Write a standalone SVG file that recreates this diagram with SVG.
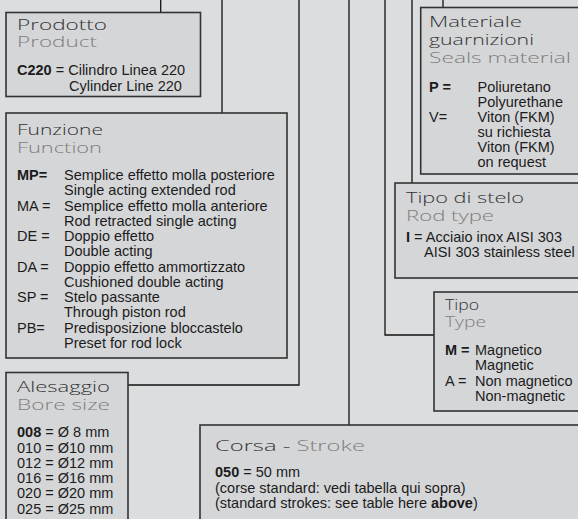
<svg xmlns="http://www.w3.org/2000/svg" width="578" height="519" viewBox="0 0 578 519">
<style>
.bg{fill:#dcdddf}
.box{fill:#d5d6d8;stroke:#333;stroke-width:1.6}
.ln{fill:none;stroke:#111;stroke-width:1.3}
.t{font-family:"Open Sans","DejaVu Sans",sans-serif;font-weight:300;font-size:14px;fill:#333}
.s{font-family:"Open Sans","DejaVu Sans",sans-serif;font-weight:300;font-size:14px;fill:#7e7e7e}
.b{font-family:"Liberation Sans",Arial,sans-serif;font-size:14.5px;fill:#1c1c1c}
.k{font-weight:bold}
</style>
<rect class="bg" x="0" y="0" width="578" height="519"/>
<g id="connectors">
<path class="ln" d="M160.7 0V12.5"/>
<path class="ln" d="M222 0V113"/>
<path class="ln" d="M299 0V385H128"/>
<path class="ln" d="M349 0V425"/>
<path class="ln" d="M385 0V335H434"/>
<path class="ln" d="M412 0V183"/>
<path class="ln" d="M443 0V7.5"/>
</g>
<g id="prodotto">
<rect class="box" x="6" y="12.5" width="194.5" height="84"/>
<text class="t" x="17" y="29.5" textLength="90" lengthAdjust="spacingAndGlyphs">Prodotto</text>
<text class="s" x="17" y="47" textLength="80" lengthAdjust="spacingAndGlyphs">Product</text>
<text class="b" x="17" y="75"><tspan class="k">C220</tspan> = Cilindro Linea 220</text>
<text class="b" x="69" y="90.5">Cylinder Line 220</text>
</g>
<g id="funzione">
<rect class="box" x="6" y="113" width="281" height="245"/>
<text class="t" x="17" y="135" textLength="86" lengthAdjust="spacingAndGlyphs">Funzione</text>
<text class="s" x="17" y="153" textLength="85" lengthAdjust="spacingAndGlyphs">Function</text>
<text class="b k" x="17" y="180">MP=</text>
<text class="b" x="64" y="180">Semplice effetto molla posteriore</text>
<text class="b" x="64" y="195.2">Single acting extended rod</text>
<text class="b" x="17" y="210.5">MA =</text>
<text class="b" x="64" y="210.5">Semplice effetto molla anteriore</text>
<text class="b" x="64" y="225.7">Rod retracted single acting</text>
<text class="b" x="17" y="241">DE =</text>
<text class="b" x="64" y="241">Doppio effetto</text>
<text class="b" x="64" y="256.2">Double acting</text>
<text class="b" x="17" y="271.5">DA =</text>
<text class="b" x="64" y="271.5">Doppio effetto ammortizzato</text>
<text class="b" x="64" y="286.7">Cushioned double acting</text>
<text class="b" x="17" y="302">SP =</text>
<text class="b" x="64" y="302">Stelo passante</text>
<text class="b" x="64" y="317.2">Through piston rod</text>
<text class="b" x="17" y="332.5">PB=</text>
<text class="b" x="64" y="332.5">Predisposizione bloccastelo</text>
<text class="b" x="64" y="347.7">Preset for rod lock</text>
</g>
<g id="alesaggio">
<rect class="box" x="6" y="372.5" width="122" height="160"/>
<text class="t" x="17" y="391.5" textLength="93" lengthAdjust="spacingAndGlyphs">Alesaggio</text>
<text class="s" x="17" y="410" textLength="93" lengthAdjust="spacingAndGlyphs">Bore size</text>
<text class="b" x="17" y="437"><tspan class="k">008</tspan> = Ø 8 mm</text>
<text class="b" x="17" y="452.5">010 = Ø10 mm</text>
<text class="b" x="17" y="467.7">012 = Ø12 mm</text>
<text class="b" x="17" y="483">016 = Ø16 mm</text>
<text class="b" x="17" y="498.2">020 = Ø20 mm</text>
<text class="b" x="17" y="513.5">025 = Ø25 mm</text>
</g>
<g id="corsa">
<rect class="box" x="200" y="425" width="400" height="110"/>
<text class="t" x="215" y="451" textLength="150" lengthAdjust="spacingAndGlyphs">Corsa - <tspan fill="#7e7e7e">Stroke</tspan></text>
<text class="b" x="215" y="477.3"><tspan class="k">050</tspan> = 50 mm</text>
<text class="b" x="215" y="492.7">(corse standard: vedi tabella qui sopra)</text>
<text class="b" x="215" y="508">(standard strokes: see table here <tspan class="k">above</tspan>)</text>
</g>
<g id="materiale">
<rect class="box" x="420.7" y="7.5" width="170" height="166.5"/>
<text class="t" x="429" y="27" textLength="93" lengthAdjust="spacingAndGlyphs">Materiale</text>
<text class="t" x="429" y="45" textLength="105" lengthAdjust="spacingAndGlyphs">guarnizioni</text>
<text class="s" x="429" y="63.3" textLength="142" lengthAdjust="spacingAndGlyphs">Seals material</text>
<text class="b k" x="429" y="91.5">P =</text>
<text class="b" x="477.5" y="91.5">Poliuretano</text>
<text class="b" x="477.5" y="106.5">Polyurethane</text>
<text class="b" x="429" y="121.5">V=</text>
<text class="b" x="477.5" y="121.5">Viton (FKM)</text>
<text class="b" x="477.5" y="136.5">su richiesta</text>
<text class="b" x="477.5" y="151.5">Viton (FKM)</text>
<text class="b" x="477.5" y="166.5">on request</text>
</g>
<g id="tipo-stelo">
<rect class="box" x="395" y="183" width="195" height="95"/>
<text class="t" x="406" y="203.3" textLength="118" lengthAdjust="spacingAndGlyphs">Tipo di stelo</text>
<text class="s" x="406" y="221" textLength="88" lengthAdjust="spacingAndGlyphs">Rod type</text>
<text class="b" x="406" y="241.7"><tspan class="k">I</tspan> = Acciaio inox AISI 303</text>
<text class="b" x="424" y="256.7">AISI 303 stainless steel</text>
</g>
<g id="tipo">
<rect class="box" x="434" y="292" width="156" height="119"/>
<text class="t" x="445" y="309.5" textLength="34" lengthAdjust="spacingAndGlyphs">Tipo</text>
<text class="s" x="445" y="327" textLength="41" lengthAdjust="spacingAndGlyphs">Type</text>
<text class="b k" x="445" y="355">M =</text>
<text class="b" x="475" y="355">Magnetico</text>
<text class="b" x="475" y="370">Magnetic</text>
<text class="b" x="445" y="385.5">A =</text>
<text class="b" x="475" y="385.5">Non magnetico</text>
<text class="b" x="475" y="400.5">Non-magnetic</text>
</g>
</svg>
